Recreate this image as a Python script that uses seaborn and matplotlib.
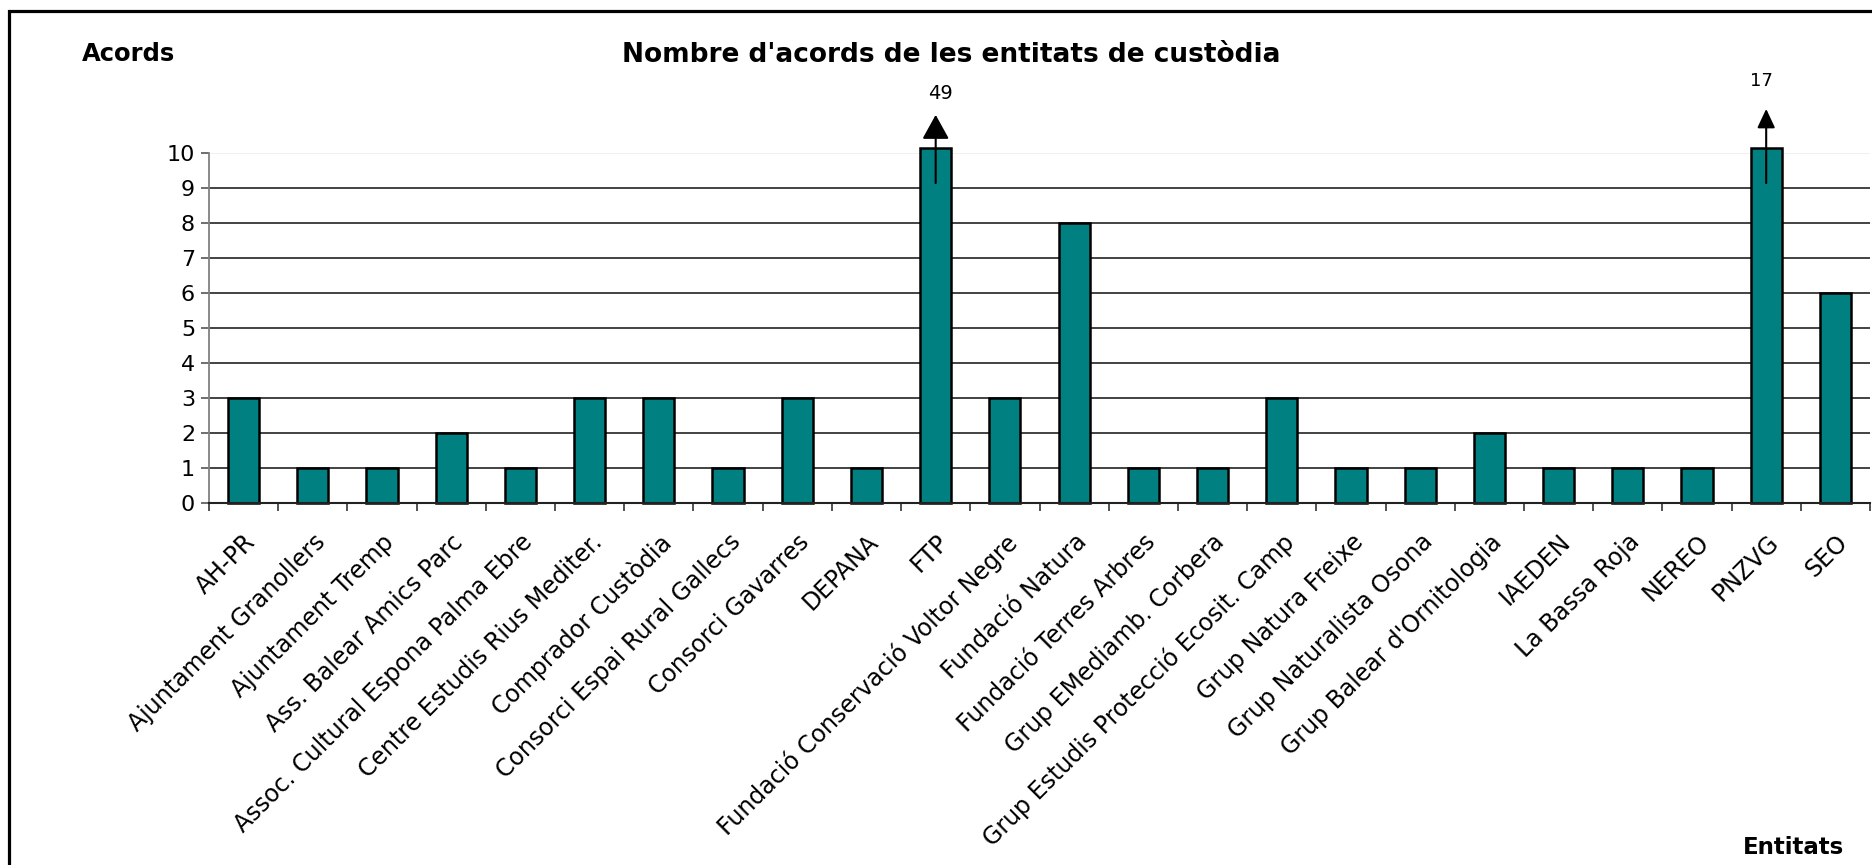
import matplotlib
matplotlib.use("Agg")
import matplotlib.pyplot as plt
from matplotlib.patches import Rectangle
from matplotlib.ticker import FixedLocator
from matplotlib.transforms import ScaledTranslation
import seaborn as sns
import pandas as pd
import numpy as np

categories = ["AH-PR", "Ajuntament Granollers", "Ajuntament Tremp", "Ass. Balear Amics Parc",
              "Assoc. Cultural Espona Palma Ebre", "Centre Estudis Rius Mediter.",
              "Comprador Custòdia", "Consorci Espai Rural Gallecs", "Consorci Gavarres",
              "DEPANA", "FTP", "Fundació Conservació Voltor Negre", "Fundació Natura",
              "Fundació Terres Arbres", "Grup EMediamb. Corbera",
              "Grup Estudis Protecció Ecosit. Camp", "Grup Natura Freixe",
              "Grup Naturalista Osona", "Grup Balear d'Ornitologia", "IAEDEN",
              "La Bassa Roja", "NEREO", "PNZVG", "SEO"]
acords = [3, 1, 1, 2, 1, 3, 3, 1, 3, 1, 49, 3, 8, 1, 1, 3, 1, 1, 2, 1, 1, 1, 17, 6]
y_ticks = list(range(0, 11))
axis_cap = 10.15  # bars taller than the axis are cut here and flagged with an arrow

shown = [min(v, axis_cap) for v in acords]
df = pd.DataFrame({"Entitat": categories, "Acords": shown})

sns.set_theme(style="white")
plt.rcParams["font.family"] = ["DejaVu Sans"]
plt.rcParams["text.color"] = "black"
plt.rcParams["xtick.color"] = "black"
plt.rcParams["ytick.color"] = "black"

W, H = 1872, 865
fig = plt.figure(figsize=(W / 100, H / 100), dpi=100)
ax = fig.add_axes([209 / W, 1 - 503 / H, (1870 - 209) / W, (503 - 153) / H])

sns.barplot(data=df, x="Entitat", y="Acords", color="#008080", saturation=1,
            edgecolor="black", linewidth=1.8, width=0.45, ax=ax)
for p in ax.patches:
    p.set_clip_on(False)

ax.set_ylim(0, 10)
ax.set_xlim(-0.5, len(categories) - 0.5)
ax.set_yticks(y_ticks)
ax.set_yticklabels([str(t) for t in y_ticks], fontsize=16)
ax.set_xticks(range(len(categories)))
ax.set_xticklabels(categories, rotation=45, ha="right", va="top", rotation_mode="anchor", fontsize=17)
shift = ScaledTranslation(-16 / 100, 0, fig.dpi_scale_trans)
for lab in ax.get_xticklabels():
    lab.set_transform(lab.get_transform() + shift)
ax.xaxis.set_minor_locator(FixedLocator(np.arange(-0.5, len(categories), 1.0)))
ax.tick_params(axis="x", which="major", length=0, pad=19.4)
ax.tick_params(axis="x", which="minor", length=6, width=1.2, color="#333333", direction="out", bottom=True)
ax.tick_params(axis="y", length=6, width=1.2, color="#555555", labelcolor="black",
               direction="out", left=True, pad=4)
ax.set_xlabel("")
ax.set_ylabel("")

ax.grid(axis="y", color="#222222", linewidth=1.2)
gl = ax.get_ygridlines()
gl[-1].set_color("#eeeeee")
ax.set_axisbelow(True)

for s in ["top", "right"]:
    ax.spines[s].set_visible(False)
ax.spines["left"].set_color("#808080")
ax.spines["left"].set_linewidth(1.3)
ax.spines["bottom"].set_color("#222222")
ax.spines["bottom"].set_linewidth(1.5)

# arrows for truncated bars
idx_ftp = categories.index("FTP")
idx_pn = categories.index("PNZVG")
ax.annotate("", xy=(idx_ftp, 11.09), xytext=(idx_ftp, 9.14), annotation_clip=False,
            arrowprops=dict(arrowstyle="-|>,head_length=15,head_width=8.3", mutation_scale=1,
                            color="black", lw=1.5, shrinkA=0, shrinkB=0))
ax.annotate("", xy=(idx_pn, 11.26), xytext=(idx_pn, 9.14), annotation_clip=False,
            arrowprops=dict(arrowstyle="-|>,head_length=11.5,head_width=5.4", mutation_scale=1,
                            color="black", lw=1.5, shrinkA=0, shrinkB=0))
ax.text(idx_ftp + 0.07, 11.71, str(acords[idx_ftp]), ha="center", va="center", fontsize=14, clip_on=False)
ax.text(idx_pn - 0.07, 12.06, str(acords[idx_pn]), ha="center", va="center", fontsize=13, clip_on=False)

fig.text(951 / W, 1 - 55 / H, "Nombre d'acords de les entitats de custòdia",
         ha="center", va="center", fontsize=19, fontweight="bold")
fig.text(82 / W, 1 - 54 / H, "Acords", ha="left", va="center", fontsize=17.5, fontweight="bold")
fig.text(1844 / W, 1 - 848 / H, "Entitats", ha="right", va="center", fontsize=16.5, fontweight="bold")

fig.patches.append(Rectangle((9 / W, -0.05), 1.2, 1 - 11 / H + 0.05, transform=fig.transFigure,
                             fill=False, edgecolor="black", linewidth=2.3))

fig.savefig("out.png", dpi=100)
